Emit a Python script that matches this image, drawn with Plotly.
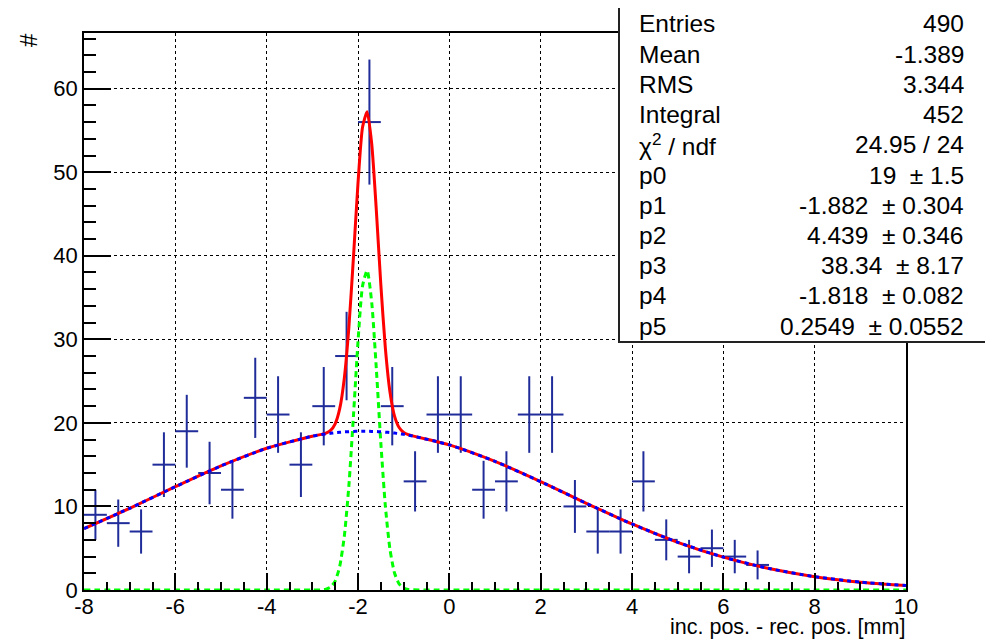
import numpy as np
import plotly.graph_objects as go

# ---- histogram data (bin centers, counts) ----
bin_centers = [-7.75, -7.25, -6.75, -6.25, -5.75, -5.25, -4.75, -4.25, -3.75, -3.25,
               -2.75, -2.25, -1.75, -1.25, -0.75, -0.25, 0.25, 0.75, 1.25, 1.75,
               2.25, 2.75, 3.25, 3.75, 4.25, 4.75, 5.25, 5.75, 6.25, 6.75]
counts = [9, 8, 7, 15, 19, 14, 12, 23, 21, 15,
          22, 28, 56, 22, 13, 21, 21, 12, 13, 21,
          21, 10, 7, 7, 13, 6, 4, 5, 4, 3]
half_bin = 0.25
count_err = list(np.sqrt(counts))

# ---- fit curves ----
curve_x = [-8, -7, -6, -5, -4, -3,
           -2.8, -2.7, -2.6, -2.5, -2.4, -2.3, -2.2, -2.1, -2.0, -1.9,
           -1.8, -1.7, -1.6, -1.5, -1.4, -1.3, -1.2, -1.1, -1.0, -0.9,
           0, 1, 2, 3, 4, 5, 6, 7, 8, 9, 10]
background = [7.35, 9.78, 12.36, 14.85, 16.96, 18.41,
              18.60, 18.68, 18.75, 18.82, 18.87, 18.92, 18.95, 18.98, 18.99, 19.00,
              19.00, 18.98, 18.96, 18.93, 18.89, 18.84, 18.78, 18.71, 18.63, 18.54,
              17.37, 15.39, 12.96, 10.38, 7.90, 5.71, 3.93, 2.57, 1.59, 0.94, 0.53]
peak = [0, 0, 0, 0, 0, 0,
        0.02, 0.10, 0.35, 1.07, 2.83, 6.41, 12.47, 20.79, 29.71, 36.41,
        38.24, 34.44, 26.60, 17.61, 9.99, 4.86, 2.03, 0.73, 0.22, 0.06,
        0, 0, 0, 0, 0, 0, 0, 0, 0, 0, 0]
total = [7.35, 9.78, 12.36, 14.85, 16.96, 18.41,
         18.62, 18.78, 19.10, 19.89, 21.70, 25.33, 31.42, 39.77, 48.70, 55.41,
         57.24, 53.42, 45.56, 36.54, 28.88, 23.70, 20.81, 19.44, 18.85, 18.60,
         17.37, 15.39, 12.96, 10.38, 7.90, 5.71, 3.93, 2.57, 1.59, 0.94, 0.53]

# ---- axis tick labels ----
x_tickvals = [-8, -6, -4, -2, 0, 2, 4, 6, 8, 10]
x_ticktext = ["-8", "-6", "-4", "-2", "0", "2", "4", "6", "8", "10"]
y_tickvals = [0, 10, 20, 30, 40, 50, 60]
y_ticktext = ["0", "10", "20", "30", "40", "50", "60"]

# ---- stats box ----
stat_labels = ["Entries", "Mean", "RMS", "Integral", "\u03c7<sup>2</sup> / ndf",
               "p0", "p1", "p2", "p3", "p4", "p5"]
stat_values = ["490", "-1.389", "3.344", "452", "24.95 / 24",
               "19 \u00a0\u00b1 1.5", "-1.882 \u00a0\u00b1 0.304", "4.439 \u00a0\u00b1 0.346",
               "38.34 \u00a0\u00b1 8.17", "-1.818 \u00a0\u00b1 0.082", "0.2549 \u00a0\u00b1 0.0552"]

x_range = [-8, 10]
y_range = [0, 66.66]

FONT = "Liberation Sans, Arial, Helvetica, sans-serif"
OFF = 8  # page body margin
W, H = 993 - OFF, 640 - OFF
L, T = 84 - OFF, 33 - OFF
R = W - (906 - OFF)
B = H - (590 - OFF)
PW, PH = W - L - R, H - T - B


def px_x(px):
    return (px - OFF - L) / PW


def px_y(py):
    return (H - B - (py - OFF)) / PH


DATA_COLOR = "#1f2c99"

fig = go.Figure()

fig.add_trace(go.Scatter(
    x=bin_centers, y=counts, mode="markers",
    marker=dict(size=1, color=DATA_COLOR, opacity=0),
    error_x=dict(type="constant", value=half_bin, color=DATA_COLOR, thickness=2, width=0),
    error_y=dict(type="data", array=count_err, color=DATA_COLOR, thickness=2, width=0),
    showlegend=False, hoverinfo="skip"))

fig.add_trace(go.Scatter(
    x=curve_x, y=peak, mode="lines",
    line=dict(color="#00ff00", width=3, dash="6px,4px", shape="spline", smoothing=0.6),
    showlegend=False, hoverinfo="skip"))

fig.add_trace(go.Scatter(
    x=curve_x, y=total, mode="lines",
    line=dict(color="#ff0000", width=3, shape="spline", smoothing=0.6),
    showlegend=False, hoverinfo="skip"))

fig.add_trace(go.Scatter(
    x=curve_x, y=background, mode="lines",
    line=dict(color="#0000ff", width=3, dash="4px,4px", shape="spline", smoothing=0.6),
    showlegend=False, hoverinfo="skip"))

axis_common = dict(
    showline=True, linecolor="black", linewidth=1.5, mirror=True,
    showgrid=True, gridcolor="black", gridwidth=1, griddash="dot",
    zeroline=False, ticks="inside", tickcolor="black", tickwidth=1.5,
    tickfont=dict(family=FONT, size=22, color="black"),
)

fig.update_xaxes(range=x_range, tickmode="array", tickvals=x_tickvals, ticktext=x_ticktext,
                 ticklen=17, ticklabelstandoff=-4,
                 minor=dict(tickmode="linear", tick0=-8, dtick=0.5, ticks="inside", ticklen=8,
                            tickcolor="black", tickwidth=1.5, showgrid=False),
                 **axis_common)
fig.update_yaxes(range=y_range, tickmode="array", tickvals=y_tickvals, ticktext=y_ticktext,
                 ticklen=27,
                 minor=dict(tickmode="linear", tick0=0, dtick=2, ticks="inside", ticklen=12,
                            tickcolor="black", tickwidth=1.5, showgrid=False),
                 **axis_common)

shapes = [dict(type="rect", xref="paper", yref="paper",
               x0=px_x(619), x1=px_x(988), y0=px_y(342), y1=px_y(7),
               fillcolor="white", line=dict(color="#222222", width=2), layer="above")]

annotations = []
for i, (lab, val) in enumerate(zip(stat_labels, stat_values)):
    yc = px_y(24 + 30.2 * i)
    annotations.append(dict(xref="paper", yref="paper", x=px_x(637), y=yc,
                            text=lab, showarrow=False, xanchor="left", yanchor="middle",
                            font=dict(family=FONT, size=24.5, color="black")))
    annotations.append(dict(xref="paper", yref="paper", x=px_x(966), y=yc,
                            text=val, showarrow=False, xanchor="right", yanchor="middle",
                            font=dict(family=FONT, size=24.5, color="black")))

annotations.append(dict(xref="paper", yref="paper", x=px_x(907), y=px_y(627),
                        text="inc. pos. - rec. pos. [mm]", showarrow=False,
                        xanchor="right", yanchor="middle",
                        font=dict(family=FONT, size=21.5, color="black")))
annotations.append(dict(xref="paper", yref="paper", x=px_x(28), y=px_y(40),
                        text="#", showarrow=False, textangle=-90,
                        xanchor="center", yanchor="middle",
                        font=dict(family=FONT, size=24, color="black")))

fig.update_layout(
    width=W, height=H,
    margin=dict(l=L, r=R, t=T, b=B, pad=0),
    paper_bgcolor="white", plot_bgcolor="white",
    shapes=shapes, annotations=annotations,
    font=dict(family=FONT, color="black"),
)

fig.write_html("out.html")
